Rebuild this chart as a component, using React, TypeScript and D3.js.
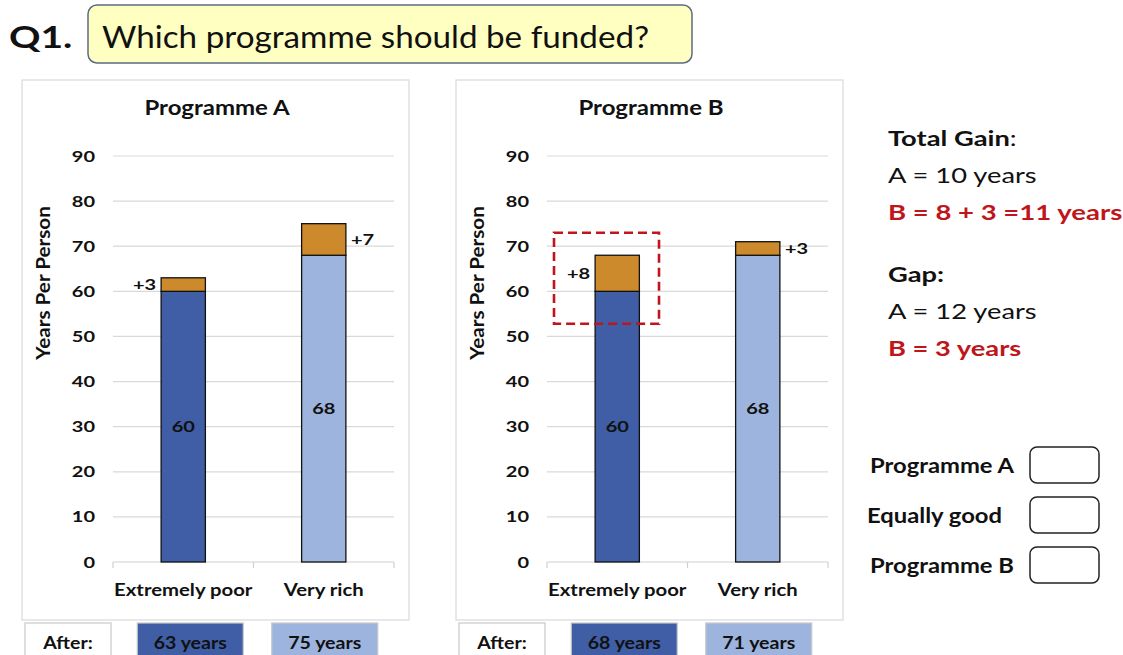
import * as React from 'react';
import * as d3 from 'd3';

// chart data
const categories = ['Extremely poor', 'Very rich'];
const programmes = ['Programme A', 'Programme B'];
const baseYears = [[60, 68], [60, 68]];
const gainYears = [[3, 7], [8, 3]];
const yTicks = [0, 10, 20, 30, 40, 50, 60, 70, 80, 90];
const options = ['Programme A', 'Equally good', 'Programme B'];

const FONT = 'Lato, "Open Sans", sans-serif';
const DARK = '#3F5EA6';
const LIGHT = '#9DB5DE';
const GAIN = '#CD8A2D';
const RED = '#C0161B';

const panelLeft = [22, 456];
const panelTop = 80;
const panelW = 387;
const panelH = 540;

// the slide is a bit stretched sideways, so text gets a horizontal scale
function T(props: { x: number; y: number; size: number; sx?: number; anchor?: string; bold?: boolean;
    fill?: string; rotate?: number; dy?: string; children: React.ReactNode }) {
    const { x, y, size, sx = 1, anchor = 'start', bold = true, fill = '#111', rotate = 0, dy = '0.35em' } = props;
    return (
        <text transform={`translate(${x},${y}) rotate(${rotate}) scale(${sx},1)`} dy={dy} textAnchor={anchor}
            fontSize={size} fontWeight={bold ? 'bold' : 'normal'} fontFamily={FONT} fill={fill}>
            {props.children}
        </text>
    );
}

function Panel(props: { idx: number }) {
    const { idx } = props;
    const x0 = panelLeft[idx];
    const x = d3.scaleBand<string>().domain(categories).range([x0 + 91, x0 + 372]).padding(0);
    const y = d3.scaleLinear().domain([0, 90]).range([562, 156]);
    const barW = x.bandwidth() * 0.315;
    const fills = [DARK, LIGHT];
    const base = baseYears[idx];
    const gain = gainYears[idx];

    return (
        <g>
            <rect x={x0} y={panelTop} width={panelW} height={panelH} fill="#fff" stroke="#d9d9d9" strokeWidth={1.2} />
            <T x={x0 + 195} y={108} size={20} sx={1.2} anchor="middle">{programmes[idx]}</T>
            <T x={x0 + 22} y={283} size={18} sx={1.15} anchor="middle" rotate={-90}>Years Per Person</T>
            {yTicks.map(t => (
                <g key={t}>
                    {t > 0 && <line x1={x.range()[0]} x2={x.range()[1]} y1={y(t)} y2={y(t)} stroke="#d9d9d9" strokeWidth={1.2} />}
                    <T x={x0 + 73} y={y(t)} size={16} sx={1.25} anchor="end">{t}</T>
                </g>
            ))}
            <line x1={x.range()[0]} x2={x.range()[1]} y1={y(0)} y2={y(0)} stroke="#d0d0d0" strokeWidth={1.2} />
            {[...categories.map(c => x(c) as number), x.range()[1]].map((px, i) => (
                <line key={i} x1={px} x2={px} y1={y(0)} y2={y(0) + 6} stroke="#d0d0d0" strokeWidth={1.2} />
            ))}
            {categories.map((c, i) => {
                const cx = (x(c) as number) + x.bandwidth() / 2;
                const bx = cx - barW / 2;
                const top = base[i] + gain[i];
                const left = i === 0;
                return (
                    <g key={c}>
                        <rect x={bx} y={y(base[i])} width={barW} height={y(0) - y(base[i])} fill={fills[i]} stroke="#111" strokeWidth={1.3} />
                        <rect x={bx} y={y(top)} width={barW} height={y(base[i]) - y(top)} fill={GAIN} stroke="#111" strokeWidth={1.3} />
                        <T x={cx} y={y(base[i] / 2)} size={16} sx={1.25} anchor="middle">{base[i]}</T>
                        <T x={left ? bx - 5 : bx + barW + 5} y={y(base[i] + gain[i] / 2)} size={16} sx={1.25}
                            anchor={left ? 'end' : 'start'}>+{gain[i]}</T>
                        <T x={cx} y={590} size={16.5} sx={1.23} anchor="middle">{c}</T>
                    </g>
                );
            })}
            {idx === 1 && (
                <rect x={(x(categories[0]) as number) + 7} y={y(73)} width={105} height={y(52.8) - y(73)}
                    fill="none" stroke={RED} strokeWidth={2.6} strokeDasharray="9,5" />
            )}
            {/* after row */}
            <rect x={x0 + 3} y={623} width={86} height={40} fill="#fff" stroke="#c8c8c8" strokeWidth={1.2} />
            <T x={x0 + 46} y={643} size={17} sx={1.15} anchor="middle">After:</T>
            {categories.map((c, i) => {
                const cx = (x(c) as number) + x.bandwidth() / 2 + (i === 0 ? 7 : 1);
                return (
                    <g key={c}>
                        <rect x={cx - 53} y={623} width={106} height={40} fill={fills[i]} stroke="#c8c8c8" strokeWidth={1.2} />
                        <T x={cx} y={643} size={17} sx={1.15} anchor="middle">{base[i] + gain[i]} years</T>
                    </g>
                );
            })}
        </g>
    );
}

export default function App() {
    return (
        <svg width={1123} height={655} style={{ position: 'absolute', left: 0, top: 0, background: '#fff' }}>
            <T x={9} y={37} size={30} sx={1.3}>Q1.</T>
            <rect x={88} y={5} width={604} height={58} rx={9} fill="#FFFFC2" stroke="#5b6b82" strokeWidth={1.5} />
            <text x={102} y={48} fontSize={31} fontFamily={FONT} fill="#111" textLength={547}
                lengthAdjust="spacingAndGlyphs">Which programme should be funded?</text>

            <Panel idx={0} />
            <Panel idx={1} />

            <T x={888} y={139} size={21} sx={1.3}>Total Gain<tspan fontWeight="normal">:</tspan></T>
            <T x={888} y={176} size={21} sx={1.3} bold={false}>A = 10 years</T>
            <T x={888} y={213} size={21} sx={1.31} fill={RED}>B = 8 + 3 =11 years</T>
            <T x={888} y={275} size={21} sx={1.3}>Gap:</T>
            <T x={888} y={312} size={21} sx={1.3} bold={false}>A = 12 years</T>
            <T x={888} y={349} size={21} sx={1.3} fill={RED}>B = 3 years</T>

            {options.map((o, i) => (
                <g key={o}>
                    <T x={i === 1 ? 867 : 870} y={466 + i * 50} size={20} sx={1.19}>{o}</T>
                    <rect x={1030} y={447 + i * 50} width={69} height={36} rx={7} fill="#fff" stroke="#222" strokeWidth={1.5} />
                </g>
            ))}
        </svg>
    );
}
